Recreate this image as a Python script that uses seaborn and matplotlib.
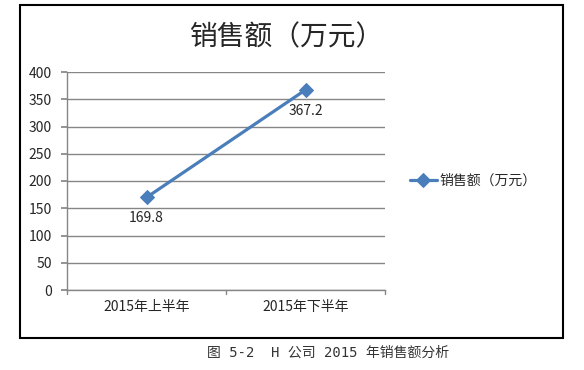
import matplotlib
matplotlib.use("Agg")
import matplotlib.pyplot as plt
import matplotlib.patches as mpatches
import seaborn as sns
import pandas as pd

categories = ["2015年上半年", "2015年下半年"]
sales = [169.8, 367.2]
series_name = "销售额（万元）"
yticks = [0, 50, 100, 150, 200, 250, 300, 350, 400]

sns.set_theme(style="white")
plt.rcParams['font.family'] = ['Noto Sans CJK SC', 'DejaVu Sans']

df = pd.DataFrame({"x": list(range(len(categories))), "y": sales, "s": series_name})

fig = plt.figure(figsize=(5.84, 3.70), dpi=100)
# outer chart border
fig.patches.append(mpatches.Rectangle((20/584, 1-338/370), (563-20)/584, (338-5)/370,
                                      transform=fig.transFigure, fill=False,
                                      edgecolor="black", linewidth=1.5))
ax = fig.add_axes([67/584, 1-290/370, (385-67)/584, (290-72)/370])

color = "#4A7EBB"
sns.lineplot(data=df, x="x", y="y", hue="s", palette=[color], marker="D",
             markersize=7, linewidth=2.3, markeredgecolor=color, ax=ax)

ax.set_xlim(-0.5, len(categories) - 0.5)
ax.set_ylim(0, 400)
ax.set_yticks(yticks)
ax.set_yticklabels([str(t) for t in yticks], fontsize=10)
ax.set_xticks(range(len(categories)))
ax.set_xticklabels(categories, fontsize=10)
ax.tick_params(axis="x", length=0, pad=7)
ax.tick_params(axis="y", length=4, left=True, color="#868686", pad=7)
for b in [-0.5, 0.5, 1.5]:
    ax.plot([b, b], [0, -8], color="#868686", lw=1, clip_on=False)
ax.grid(axis="y", color="#868686", linewidth=1)
ax.set_axisbelow(True)
ax.set_xlabel("")
ax.set_ylabel("")
for s in ["top", "right"]:
    ax.spines[s].set_visible(False)
for s in ["left", "bottom"]:
    ax.spines[s].set_color("#868686")
    ax.spines[s].set_linewidth(1)

for i, v in enumerate(sales):
    ax.annotate(f"{v}", (i, v), xytext=(0, -10), textcoords="offset points",
                ha="center", va="top", fontsize=10)

fig.text(287/584, 1-37/370, "销售额（万元）", ha="center", va="center", fontsize=20)

leg = ax.legend(loc="center left", bbox_to_anchor=(1.04, 0.5), frameon=False,
                fontsize=10, handlelength=1.9, handletextpad=0.2)

fig.text(328/584, 1-353/370, "图 5-2  H 公司 2015 年销售额分析", ha="center", va="center",
         fontsize=10, color="#333333", family=['DejaVu Sans Mono', 'Noto Sans CJK SC'])

fig.savefig("out.png", dpi=100)
